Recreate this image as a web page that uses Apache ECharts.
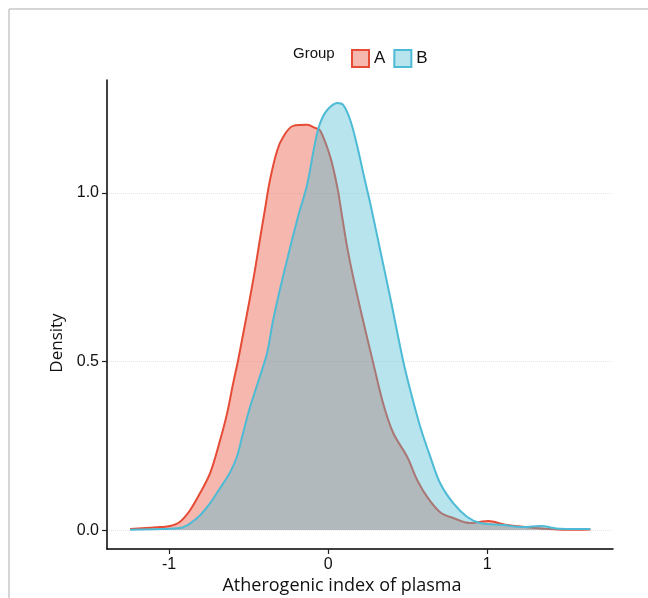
<!DOCTYPE html>
<html>
<head>
<meta charset="utf-8">
<script src="https://cdn.jsdelivr.net/npm/echarts@6/dist/echarts.min.js"></script>
<style>
  html, body { margin: 0; padding: 0; background: #fff; }
  #main { width: 648px; height: 598px; }
</style>
</head>
<body>
<div id="main"></div>
<script>
// density of group A (x, density)
var groupA = [
  [-1.245, 0.003], [-1.12, 0.007], [-1.057, 0.009], [-0.994, 0.012], [-0.931, 0.025],
  [-0.868, 0.059], [-0.805, 0.11], [-0.742, 0.169], [-0.679, 0.267], [-0.635, 0.347],
  [-0.597, 0.436], [-0.566, 0.504], [-0.535, 0.58], [-0.491, 0.69], [-0.459, 0.775],
  [-0.428, 0.865], [-0.396, 0.955], [-0.365, 1.04], [-0.321, 1.125], [-0.283, 1.166],
  [-0.22, 1.199], [-0.132, 1.202], [-0.082, 1.193], [-0.05, 1.185], [0.013, 1.107],
  [0.057, 1.018], [0.088, 0.929], [0.119, 0.84], [0.157, 0.751], [0.214, 0.632],
  [0.283, 0.496], [0.346, 0.375], [0.409, 0.288], [0.497, 0.217], [0.56, 0.148],
  [0.623, 0.098], [0.704, 0.053], [0.786, 0.036], [0.893, 0.021], [0.95, 0.024],
  [1.006, 0.027], [1.113, 0.016], [1.27, 0.008], [1.365, 0.004], [1.49, 0.001],
  [1.648, 0.002]
];
// density of group B
var groupB = [
  [-1.245, 0.001], [-1.057, 0.003], [-0.931, 0.006], [-0.868, 0.02], [-0.805, 0.044],
  [-0.742, 0.08], [-0.679, 0.125], [-0.616, 0.172], [-0.572, 0.22], [-0.535, 0.288],
  [-0.491, 0.365], [-0.44, 0.44], [-0.384, 0.525], [-0.346, 0.623], [-0.289, 0.742],
  [-0.195, 0.92], [-0.132, 1.025], [-0.082, 1.15], [-0.05, 1.208], [-0.006, 1.246],
  [0.057, 1.267], [0.094, 1.261], [0.138, 1.217], [0.182, 1.14], [0.22, 1.06],
  [0.264, 0.97], [0.327, 0.83], [0.39, 0.69], [0.472, 0.5],
  [0.516, 0.415], [0.579, 0.306], [0.642, 0.217], [0.704, 0.139], [0.786, 0.08],
  [0.874, 0.039], [0.956, 0.021], [1.101, 0.015], [1.226, 0.009], [1.333, 0.012],
  [1.459, 0.004], [1.648, 0.003]
];
var groups = ["A", "B"];
var xTicks = [-1, 0, 1];
var yTicks = [0, 0.5, 1.0];

var lineColors = ["#E64B35", "#4DBBD5"];
var fillColors = ["rgba(230,75,53,0.4)", "rgba(77,187,213,0.4)"];

var chart = echarts.init(document.getElementById("main"));

chart.setOption({
  animation: false,
  backgroundColor: "#fff",
  grid: { left: 107, right: 35, top: 80, bottom: 49 },
  legend: {
    left: 346,
    top: 44,
    icon: "rect",
    itemWidth: 17,
    itemHeight: 17,
    itemGap: 8,
    textStyle: { fontSize: 17, color: "#111", fontFamily: "Liberation Sans, Arial" },
    data: groups.map(function (g, i) {
      return {
        name: g,
        itemStyle: { color: fillColors[i], borderColor: lineColors[i], borderWidth: 2 }
      };
    })
  },
  xAxis: {
    type: "value",
    min: -1.39,
    max: 1.79,
    axisLine: { onZero: false, lineStyle: { color: "#000", width: 1.5 } },
    axisTick: { show: true, customValues: xTicks, length: 5, lineStyle: { color: "#222", width: 1.2 } },
    axisLabel: {
      customValues: xTicks,
      fontSize: 16, color: "#111", margin: 8,
      fontFamily: "Liberation Sans, Arial"
    },
    splitLine: { show: false }
  },
  yAxis: {
    type: "value",
    min: -0.056,
    max: 1.335,
    axisLine: { show: true, onZero: false, lineStyle: { color: "#000", width: 1.5 } },
    axisTick: { show: true, customValues: yTicks, length: 5, lineStyle: { color: "#222", width: 1.2 } },
    axisLabel: {
      customValues: yTicks,
      fontSize: 16, color: "#111", margin: 8,
      fontFamily: "Liberation Sans, Arial",
      formatter: function (v) { return v.toFixed(1); }
    },
    splitLine: {
      show: true,
      customValues: yTicks,
      lineStyle: { color: "#e6e6e6", width: 1, type: "dotted" }
    }
  },
  series: [groupA, groupB].map(function (d, i) {
    return {
      name: groups[i],
      type: "line",
      z: 2 + i,
      data: d,
      smooth: 0.35,
      showSymbol: false,
      lineStyle: { color: lineColors[i], width: 2 },
      itemStyle: { color: lineColors[i] },
      areaStyle: { color: fillColors[i], opacity: 1 }
    };
  }),
  graphic: [
    {
      type: "line",
      shape: { x1: 9, y1: 9, x2: 648, y2: 9 },
      style: { stroke: "#c8c8c8", lineWidth: 1.5 }
    },
    {
      type: "line",
      shape: { x1: 9, y1: 9, x2: 9, y2: 598 },
      style: { stroke: "#c8c8c8", lineWidth: 1.5 }
    },
    {
      type: "text",
      left: 293,
      top: 46,
      style: { text: "Group", fontSize: 15, fill: "#111", fontFamily: "Liberation Sans, Arial" }
    },
    {
      type: "text",
      x: 342,
      y: 586,
      style: {
        text: "Atherogenic index of plasma",
        fontSize: 18, fill: "#111",
        fontFamily: "Open Sans",
        align: "center", verticalAlign: "middle"
      }
    },
    {
      type: "text",
      x: 57,
      y: 343,
      rotation: Math.PI / 2,
      style: {
        text: "Density",
        fontSize: 17, fill: "#111",
        fontFamily: "Open Sans",
        align: "center", verticalAlign: "middle"
      }
    }
  ]
});
</script>
</body>
</html>
